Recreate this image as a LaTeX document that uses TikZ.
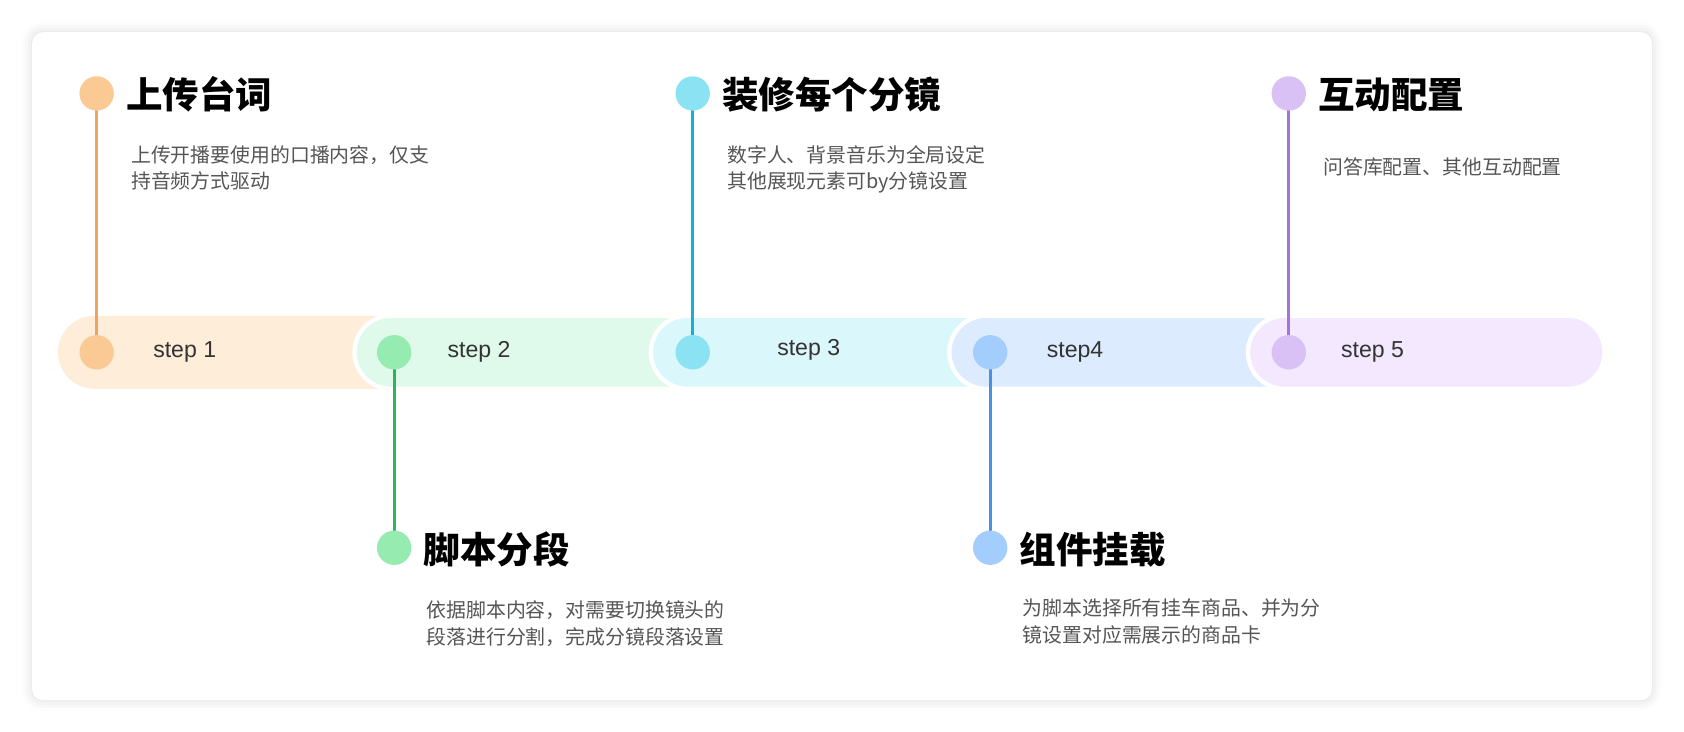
\documentclass[tikz,border=0pt]{standalone}
\usepackage{fontspec}
\setmainfont{Noto Sans CJK SC}
\newfontfamily\stepfont{Liberation Sans}
\usetikzlibrary{shadows.blur}
\definecolor{o1}{HTML}{FAC994}\definecolor{o2}{HTML}{FEEDD8}\definecolor{o3}{HTML}{EAA55E}
\definecolor{g1}{HTML}{96EBB0}\definecolor{g2}{HTML}{DFFAEA}\definecolor{g3}{HTML}{2DB55D}
\definecolor{c1}{HTML}{8AE2F2}\definecolor{c2}{HTML}{DAF7FC}\definecolor{c3}{HTML}{1AAFD0}
\definecolor{b1}{HTML}{A3CDFC}\definecolor{b2}{HTML}{DCEBFE}\definecolor{b3}{HTML}{4A90E2}
\definecolor{p1}{HTML}{D9C0F5}\definecolor{p2}{HTML}{F3E8FE}\definecolor{p3}{HTML}{A674D6}
\definecolor{desc}{HTML}{555555}
\begin{document}
\begin{tikzpicture}[x=1pt,y=-1pt,
 seg/.style={rounded corners=34pt,draw=white,line width=4pt},
 dot/.style={circle,minimum size=32pt,inner sep=0pt},
 ttl/.style={anchor=west,font=\fontsize{34}{38}\selectfont\bfseries},
 dsc/.style={anchor=north west,align=left,text=desc,inner sep=0pt,font=\fontsize{18.5}{25}\selectfont},
 stp/.style={font=\stepfont\fontsize{21.5}{23}\selectfont,text=black!80}]
\useasboundingbox (0,0) rectangle (1568,681);
\fill[white,rounded corners=10pt,blur shadow={shadow xshift=0pt,shadow yshift=0pt,shadow blur radius=10pt,shadow opacity=15}] (30,30) rectangle (1538,652);
\fill[o2,rounded corners=34pt] (54,294) rectangle (400,362);
\fill[g2,seg] (330,294) rectangle (680,362);
\fill[c2,seg] (606,294) rectangle (950,362);
\fill[b2,seg] (884,294) rectangle (1230,362);
\fill[p2,seg] (1162,294) rectangle (1494,362);
\node[stp] (s1) at (172,328) {step 1};
\node[stp] (s2) at (446,328) {step 2};
\node[stp] (s3) at (753,326) {step 3};
\node[stp] (s4) at (1001,328) {step4};
\node[stp] (s5) at (1278,328) {step 5};
\foreach \i/\x/\c/\ty in {1/90/o/87,2/367/g/510,3/645/c/87,4/922/b/510,5/1200/p/87}{
 \draw[\c3,line width=3pt] (\x,328) -- (\x,\ty);
 \node[dot,fill=\c1] (d\i) at (\x,328) {};
 \node[dot,fill=\c1] (t\i) at (\x,\ty) {};
}
\node[ttl] (h1) at (114,88) {上传台词};
\node[dsc] (e1) at (122,135) {上传开播要使用的口播内容，仅支\\持音频方式驱动};
\node[ttl] (h2) at (391,512) {脚本分段};
\node[dsc] (e2) at (397,559) {依据脚本内容，对需要切换镜头的\\段落进行分割，完成分镜段落设置};
\node[ttl] (h3) at (669,88) {装修每个分镜};
\node[dsc] (e3) at (677,135) {数字人、背景音乐为全局设定\\其他展现元素可by分镜设置};
\node[ttl] (h4) at (946,512) {组件挂载};
\node[dsc] (e4) at (952,557) {为脚本选择所有挂车商品、并为分\\镜设置对应需展示的商品卡};
\node[ttl] (h5) at (1224,88) {互动配置};
\node[dsc] (e5) at (1232,147) {问答库配置、其他互动配置};
\end{tikzpicture}
\end{document}
